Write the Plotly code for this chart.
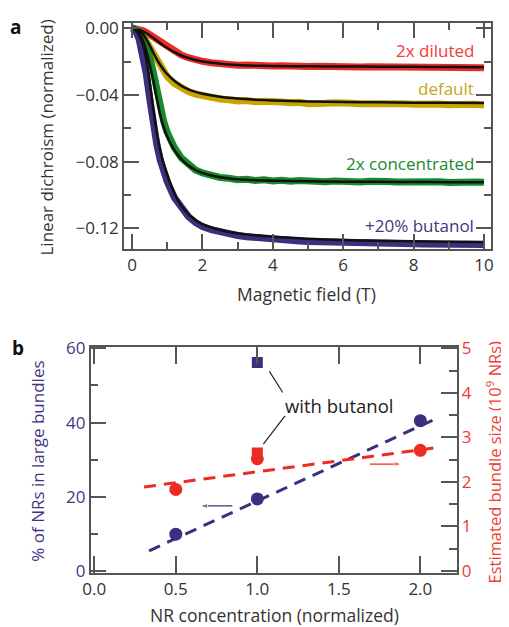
import plotly.graph_objects as go

REF_W, REF_H = 509, 627
OFF = 8  # page body margin of the browser
W, H = REF_W - OFF, REF_H - OFF
FONT = "Open Sans"

# ---------------- Panel a data ----------------
field_data = [0, 0.1, 0.2, 0.3, 0.4, 0.5, 0.6, 0.7, 0.8, 0.9, 1.0, 1.2, 1.4, 1.6, 1.8, 2.0,
              2.25, 2.5, 2.75, 3.0, 3.25, 3.5, 3.75, 4.0, 4.25, 4.5, 4.75, 5.0, 5.25, 5.5,
              5.75, 6.0, 6.25, 6.5, 6.75, 7.0, 7.25, 7.5, 7.75, 8.0, 8.25, 8.5, 8.75, 9.0,
              9.25, 9.5, 9.75, 10.0]

diluted_data = [0.0003, 0.0000, -0.0005, -0.0013, -0.0024, -0.0037, -0.0052, -0.0068, -0.0084, -0.0099,
                -0.0113, -0.0139, -0.0160, -0.0176, -0.0189, -0.0198, -0.0206, -0.0214, -0.0217, -0.0222,
                -0.0220, -0.0225, -0.0223, -0.0226, -0.0224, -0.0228, -0.0226, -0.0229, -0.0227, -0.0230,
                -0.0228, -0.0231, -0.0229, -0.0232, -0.0230, -0.0231, -0.0233, -0.0230, -0.0233, -0.0231,
                -0.0234, -0.0232, -0.0234, -0.0232, -0.0235, -0.0233, -0.0235, -0.0236]

default_data = [0.0002, -0.0002, -0.0015, -0.0040, -0.0075, -0.0118, -0.0160, -0.0200, -0.0235, -0.0265,
                -0.0290, -0.0330, -0.0358, -0.0379, -0.0394, -0.0405, -0.0415, -0.0424, -0.0428, -0.0436,
                -0.0433, -0.0441, -0.0438, -0.0445, -0.0442, -0.0447, -0.0444, -0.0452, -0.0446, -0.0450,
                -0.0447, -0.0453, -0.0449, -0.0452, -0.0450, -0.0455, -0.0451, -0.0454, -0.0452, -0.0456,
                -0.0452, -0.0457, -0.0454, -0.0458, -0.0455, -0.0458, -0.0456, -0.0460]

concentrated_data = [0.0002, -0.0003, -0.0018, -0.0045, -0.0095, -0.0170, -0.0260, -0.0370, -0.0475, -0.0560,
                     -0.0625, -0.0715, -0.0778, -0.0820, -0.0850, -0.0868, -0.0883, -0.0895, -0.0900, -0.0908,
                     -0.0905, -0.0913, -0.0909, -0.0916, -0.0912, -0.0918, -0.0913, -0.0919, -0.0915, -0.0921,
                     -0.0916, -0.0920, -0.0917, -0.0922, -0.0918, -0.0923, -0.0919, -0.0922, -0.0920, -0.0924,
                     -0.0920, -0.0923, -0.0921, -0.0925, -0.0921, -0.0924, -0.0922, -0.0924]

butanol_data = [0.0002, -0.0015, -0.0065, -0.0150, -0.0270, -0.0420, -0.0570, -0.0695, -0.0790, -0.0860,
                -0.0920, -0.1015, -0.1082, -0.1130, -0.1165, -0.1190, -0.1208, -0.1222, -0.1235, -0.1243,
                -0.1250, -0.1256, -0.1262, -0.1266, -0.1270, -0.1274, -0.1276, -0.1279, -0.1281, -0.1283,
                -0.1284, -0.1286, -0.1287, -0.1289, -0.1289, -0.1291, -0.1291, -0.1292, -0.1293, -0.1293,
                -0.1294, -0.1294, -0.1295, -0.1295, -0.1296, -0.1296, -0.1297, -0.1297]

field_fit = [0, 0.1, 0.2, 0.3, 0.4, 0.5, 0.6, 0.7, 0.8, 0.9, 1.0, 1.2, 1.4, 1.6, 1.8, 2.0,
             2.5, 3, 3.5, 4, 5, 6, 7, 8, 9, 10]
diluted_fit = [0, -0.0002, -0.0008, -0.0017, -0.0028, -0.0042, -0.0057, -0.0073, -0.0089, -0.0104,
               -0.0118, -0.0143, -0.0163, -0.0178, -0.0190, -0.0199, -0.0212, -0.0220, -0.0224, -0.0226,
               -0.0228, -0.0229, -0.0230, -0.0231, -0.0232, -0.0233]
default_fit = [0, -0.0003, -0.0013, -0.0033, -0.0063, -0.0102, -0.0145, -0.0185, -0.0220, -0.0250,
               -0.0275, -0.0315, -0.0345, -0.0366, -0.0381, -0.0392, -0.0410, -0.0421, -0.0428, -0.0433,
               -0.0439, -0.0442, -0.0444, -0.0446, -0.0447, -0.0448]
concentrated_fit = [0, -0.0008, -0.0030, -0.0068, -0.0130, -0.0215, -0.0310, -0.0420, -0.0520, -0.0595,
                    -0.0650, -0.0730, -0.0785, -0.0823, -0.0850, -0.0868, -0.0893, -0.0906, -0.0912, -0.0915,
                    -0.0918, -0.0920, -0.0921, -0.0922, -0.0923, -0.0924]
butanol_fit = [0, -0.0010, -0.0040, -0.0095, -0.0180, -0.0320, -0.0480, -0.0620, -0.0730, -0.0815,
               -0.0880, -0.0990, -0.1065, -0.1115, -0.1150, -0.1175, -0.1210, -0.1230, -0.1242, -0.1250,
               -0.1262, -0.1270, -0.1275, -0.1278, -0.1280, -0.1282]

series_names = ["2x diluted", "default", "2x concentrated", "+20% butanol"]

# ---------------- Panel b data ----------------
conc = [0.5, 1.0, 2.0]
pct_large = [9.9, 19.4, 40.5]
bundle_size = [1.83, 2.52, 2.71]
butanol_conc = [1.0]
butanol_pct = [56.2]
butanol_size = [2.65]
pct_fit_x = [0.336, 2.104]
pct_fit_y = [5.4, 41.2]
size_fit_x = [0.305, 2.08]
size_fit_y = [1.885, 2.76]
blue_arrow_x = [0.847, 0.648]
blue_arrow_y = [17.5, 17.5]
red_arrow_x = [1.69, 1.886]
red_arrow_y = [2.40, 2.40]
leaders = [((1.074, 53.8), (1.156, 48.1)), ((1.170, 41.8), (1.037, 34.2))]

# colours
RED = "#ec2b25"
YEL = "#c9a400"
GRN = "#178a2b"
PUR = "#3b2f7f"
RED_T = "#ef3b36"
YEL_T = "#c8a51c"
GRN_T = "#1a8a2c"
PUR_T = "#3f3682"
AX = "#555555"
TXT = "#333333"

fig = go.Figure()

data_sets = [(diluted_data, diluted_fit, RED), (default_data, default_fit, YEL),
             (concentrated_data, concentrated_fit, GRN), (butanol_data, butanol_fit, PUR)]
for (d, f, c), name in zip(data_sets, series_names):
    fig.add_trace(go.Scatter(x=field_data, y=d, mode="lines", name=name,
                             line=dict(color=c, width=7), xaxis="x", yaxis="y", showlegend=False))
for (d, f, c), name in zip(data_sets, series_names):
    fig.add_trace(go.Scatter(x=field_fit, y=f, mode="lines", name=name + " fit",
                             line=dict(color="#111111", width=2.5, shape="spline", smoothing=0.6),
                             xaxis="x", yaxis="y", showlegend=False))

# Panel b
fig.add_trace(go.Scatter(x=pct_fit_x, y=pct_fit_y, mode="lines",
                         line=dict(color=PUR, width=3, dash="12px,8px"),
                         xaxis="x2", yaxis="y2", showlegend=False))
fig.add_trace(go.Scatter(x=size_fit_x, y=size_fit_y, mode="lines",
                         line=dict(color=RED, width=3, dash="12px,8px"),
                         xaxis="x2", yaxis="y3", showlegend=False))
fig.add_trace(go.Scatter(x=butanol_conc, y=butanol_size, mode="markers",
                         marker=dict(symbol="square", size=11, color=RED),
                         xaxis="x2", yaxis="y3", showlegend=False))
fig.add_trace(go.Scatter(x=conc, y=bundle_size, mode="markers",
                         marker=dict(symbol="circle", size=13, color=RED),
                         xaxis="x2", yaxis="y3", showlegend=False))
fig.add_trace(go.Scatter(x=butanol_conc, y=butanol_pct, mode="markers",
                         marker=dict(symbol="square", size=11, color=PUR),
                         xaxis="x2", yaxis="y2", showlegend=False))
fig.add_trace(go.Scatter(x=conc, y=pct_large, mode="markers",
                         marker=dict(symbol="circle", size=13, color=PUR),
                         xaxis="x2", yaxis="y2", showlegend=False))
# arrows
fig.add_trace(go.Scatter(x=blue_arrow_x, y=blue_arrow_y, mode="lines+markers",
                         line=dict(color=PUR, width=1.2),
                         marker=dict(symbol="arrow", size=[0, 8], angleref="previous", color=PUR),
                         xaxis="x2", yaxis="y2", showlegend=False))
fig.add_trace(go.Scatter(x=red_arrow_x, y=red_arrow_y, mode="lines+markers",
                         line=dict(color=RED, width=1.2),
                         marker=dict(symbol="arrow", size=[0, 8], angleref="previous", color=RED),
                         xaxis="x2", yaxis="y3", showlegend=False))

def px_x(p):
    return (p - OFF) / W

def px_y(p):
    return 1 - (p - OFF) / H

tickfont = dict(family=FONT, size=17, color=TXT)
common = dict(showline=True, linecolor=AX, linewidth=1.5, showgrid=False, zeroline=False,
              ticks="inside", tickcolor=AX, tickwidth=1.5, automargin=False)

fig.update_layout(
    template="none",
    width=W, height=H, margin=dict(l=0, r=0, t=0, b=0, autoexpand=False),
    paper_bgcolor="white", plot_bgcolor="white",
    font=dict(family=FONT, size=17, color=TXT),
    xaxis=dict(domain=[px_x(124), px_x(491)], anchor="y", range=[-0.23, 10.2],
               tick0=0, dtick=2, ticklen=15, mirror="ticks",
               minor=dict(ticks="inside", dtick=1, ticklen=7, tickcolor=AX, tickwidth=1.5),
               tickfont=tickfont, **common),
    yaxis=dict(domain=[px_y(249), px_y(23)], anchor="x", range=[-0.1324, 0.0032],
               tick0=0, dtick=0.04, tickformat=".2f", ticklen=15, mirror="ticks",
               minor=dict(ticks="inside", dtick=0.02, ticklen=7, tickcolor=AX, tickwidth=1.5),
               tickfont=tickfont, **common),
    xaxis2=dict(domain=[px_x(90.7), px_x(456.7)], anchor="y2", range=[-0.022, 2.223],
                tick0=0, dtick=0.5, tickformat=".1f", ticklen=17, mirror="ticks",
                tickfont=tickfont, **common),
    yaxis2=dict(domain=[px_y(572.7), px_y(347.3)], anchor="x2", range=[-0.5, 60.3],
                tick0=0, dtick=20, ticklen=16,
                minor=dict(ticks="inside", dtick=10, ticklen=8, tickcolor=AX, tickwidth=1.5),
                tickfont=dict(family=FONT, size=17, color=PUR_T), **common),
    yaxis3=dict(overlaying="y2", side="right", anchor="x2", range=[-0.5 / 12, 60.3 / 12],
                tick0=0, dtick=1, ticklen=16,
                minor=dict(ticks="inside", dtick=0.5, ticklen=8, tickcolor=AX, tickwidth=1.5),
                tickfont=dict(family=FONT, size=17, color=RED_T), **common),
)

ann = []
def label(text, x, y, color=TXT, size=17, xanchor="center", angle=0, bold=False):
    t = f"<b>{text}</b>" if bold else text
    ann.append(dict(text=t, x=px_x(x), y=px_y(y), xref="paper", yref="paper",
                    showarrow=False, xanchor=xanchor, yanchor="middle", textangle=angle,
                    font=dict(family=FONT, size=size, color=color)))

label("a", 15, 27, color="#111111", size=19, bold=True)
label("b", 18, 348, color="#111111", size=19, bold=True)
label_pos = [(50, RED_T), (88, YEL_T), (164, GRN_T), (226, PUR_T)]
for name, (yy, c) in zip(series_names, label_pos):
    label(name, 476, yy, color=c, xanchor="right")
label("Linear dichroism (normalized)", 46.5, 138, angle=-90)
label("Magnetic field (T)", 306.7, 293.5, size=17.5)
label("NR concentration (normalized)", 274.5, 614.5, size=17.5)
label("% of NRs in large bundles", 38, 461.7, color=PUR_T, angle=-90)
label("Estimated bundle size (10<sup>9</sup> NRs)", 494.5, 462, color=RED_T, angle=-90, size=16.5)
label("with butanol", 339, 405, color="#222222", size=18.5)
fig.update_layout(annotations=ann)

for (x0, y0), (x1, y1) in leaders:
    fig.add_shape(type="line", x0=x0, y0=y0, x1=x1, y1=y1, xref="x2", yref="y2",
                  line=dict(color="#222222", width=1.2))

fig.write_html("out.html")
